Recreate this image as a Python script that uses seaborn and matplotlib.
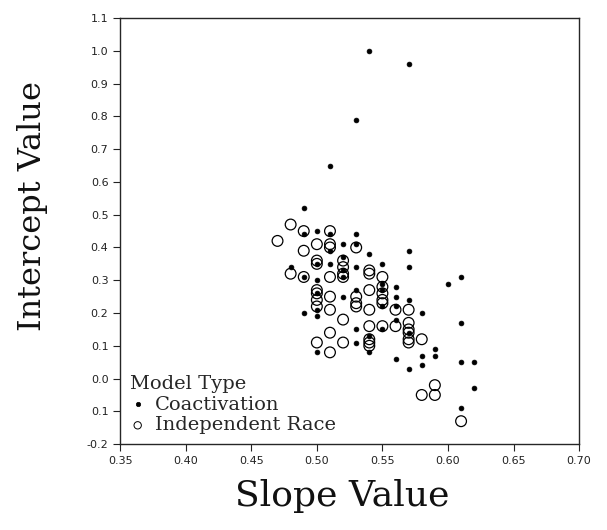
import pandas as pd
import matplotlib
matplotlib.use('Agg')
import matplotlib.pyplot as plt
import seaborn as sns

# Coactivation model fits (slope, intercept)
coact_slope = [0.54, 0.57, 0.53, 0.51, 0.49, 0.49, 0.50, 0.51, 0.53, 0.52,
               0.53, 0.54, 0.51, 0.48, 0.49, 0.50, 0.51, 0.52, 0.53, 0.55,
               0.57, 0.57, 0.60, 0.61, 0.50, 0.56, 0.56, 0.52, 0.53, 0.49,
               0.50, 0.56, 0.57, 0.58, 0.61, 0.53, 0.55, 0.56, 0.53, 0.54,
               0.50, 0.54, 0.58, 0.59, 0.59, 0.56, 0.57, 0.58, 0.61, 0.62,
               0.62, 0.61, 0.55, 0.55, 0.55, 0.52, 0.52, 0.50, 0.50, 0.57]
coact_icept = [1.00, 0.96, 0.79, 0.65, 0.52, 0.44, 0.45, 0.44, 0.44, 0.41,
               0.41, 0.38, 0.39, 0.34, 0.31, 0.35, 0.35, 0.37, 0.34, 0.35,
               0.39, 0.34, 0.29, 0.31, 0.30, 0.28, 0.25, 0.25, 0.27, 0.20,
               0.19, 0.22, 0.24, 0.20, 0.17, 0.15, 0.15, 0.18, 0.11, 0.13,
               0.08, 0.08, 0.07, 0.09, 0.07, 0.06, 0.03, 0.04, 0.05, 0.05,
               -0.03, -0.09, 0.29, 0.27, 0.22, 0.33, 0.31, 0.26, 0.21, 0.14]

# Independent race model fits (slope, intercept)
race_slope = [0.47, 0.48, 0.49, 0.51, 0.49, 0.50, 0.51, 0.51, 0.53, 0.50,
              0.50, 0.48, 0.49, 0.51, 0.52, 0.52, 0.52, 0.52, 0.54, 0.54,
              0.55, 0.50, 0.50, 0.50, 0.50, 0.51, 0.51, 0.53, 0.53, 0.53,
              0.54, 0.54, 0.55, 0.55, 0.55, 0.55, 0.52, 0.51, 0.50, 0.51,
              0.52, 0.54, 0.54, 0.54, 0.54, 0.55, 0.56, 0.56, 0.57, 0.57,
              0.57, 0.57, 0.57, 0.57, 0.58, 0.58, 0.59, 0.59, 0.61]
race_icept = [0.42, 0.47, 0.45, 0.45, 0.39, 0.41, 0.41, 0.40, 0.40, 0.36,
              0.35, 0.32, 0.31, 0.31, 0.36, 0.34, 0.32, 0.31, 0.33, 0.32,
              0.31, 0.27, 0.26, 0.24, 0.22, 0.25, 0.21, 0.25, 0.23, 0.22,
              0.27, 0.21, 0.28, 0.26, 0.24, 0.23, 0.18, 0.14, 0.11, 0.08,
              0.11, 0.16, 0.12, 0.11, 0.10, 0.16, 0.21, 0.16, 0.21, 0.17,
              0.15, 0.14, 0.12, 0.11, 0.12, -0.05, -0.05, -0.02, -0.13]

y_ticks = [-0.2, -0.1, 0.0, 0.1, 0.2, 0.3, 0.4, 0.5, 0.6, 0.7, 0.8, 0.9, 1.0, 1.1]
y_tick_labels = ['-0.2', '0.1', '0.0', '0.1', '0.2', '0.3', '0.4', '0.5',
                 '0.6', '0.7', '0.8', '0.9', '1.0', '1.1']
x_ticks = [0.35, 0.40, 0.45, 0.50, 0.55, 0.60, 0.65, 0.70]

coact = pd.DataFrame({'slope': coact_slope, 'intercept': coact_icept})
race = pd.DataFrame({'slope': race_slope, 'intercept': race_icept})

sns.set_style('ticks')
plt.rcParams['font.family'] = ['DejaVu Sans']

fig = plt.figure(figsize=(6.07, 5.30), dpi=100)
ax = fig.add_axes([0.198, 0.162, 0.756, 0.804])

sns.scatterplot(data=race, x='slope', y='intercept', ax=ax, marker='o', s=60,
                facecolor='none', edgecolor='black', linewidth=0.9,
                label='Independent Race', zorder=2)
sns.scatterplot(data=coact, x='slope', y='intercept', ax=ax, marker='o', s=12,
                color='black', edgecolor='black', linewidth=0.5,
                label='Coactivation', zorder=3)

ax.set_xlim(0.35, 0.70)
ax.set_ylim(-0.2, 1.1)
ax.set_xticks(x_ticks)
ax.set_xticklabels([f'{v:.2f}' for v in x_ticks])
ax.set_yticks(y_ticks)
ax.set_yticklabels(y_tick_labels)
ax.tick_params(direction='out', length=5, width=0.8, labelsize=8, colors='#222222')
for s in ax.spines.values():
    s.set_visible(True)
    s.set_linewidth(1.0)

ax.set_xlabel('Slope Value', fontsize=26, family='DejaVu Serif', color='#111111')
ax.set_ylabel('Intercept Value', fontsize=23, family='DejaVu Serif', color='#111111')
ax.xaxis.set_label_coords(0.484, -0.082)
ax.yaxis.set_label_coords(-0.158, 0.56)

# legend: Coactivation first, small markers like the original
h, l = ax.get_legend_handles_labels()
order = [l.index('Coactivation'), l.index('Independent Race')]
leg = ax.legend([h[i] for i in order], [l[i] for i in order], title='Model Type',
                loc='lower left', frameon=False,
                prop={'family': 'DejaVu Serif', 'size': 14},
                handletextpad=0.5, borderaxespad=0.1, labelspacing=0.15,
                handlelength=0.8, borderpad=0.4)
leg.get_title().set_fontfamily('DejaVu Serif')
leg.get_title().set_fontsize(14)
leg._legend_box.align = 'left'
leg.legend_handles[0].set_sizes([10])
leg.legend_handles[1].set_sizes([28])
leg.legend_handles[1].set_linewidth(0.7)

fig.savefig('out.png', dpi=100)
